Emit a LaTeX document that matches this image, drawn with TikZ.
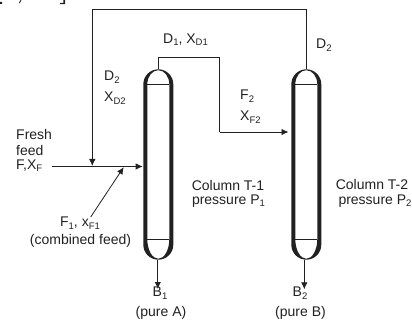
\documentclass[tikz,border=0pt]{standalone}
\usepackage{fontspec}
\setmainfont{Liberation Sans}
\usetikzlibrary{arrows.meta}
\definecolor{ink}{gray}{0.13}
\newcommand{\lowr}[1]{\raisebox{-2.6pt}{\fontsize{9.5pt}{10pt}\selectfont #1}}
\tikzset{
  pipe/.style={draw=ink,line width=0.8pt},
  flow/.style={pipe,-{Latex[length=7pt,width=6.5pt]}},
  lab/.style={text=ink,font=\fontsize{14pt}{16pt}\selectfont,inner sep=0pt,align=center},
}
\newcommand{\colm}[2]{%
  \coordinate (#1top) at (#2,-69.3);
  \coordinate (#1bot) at (#2,-259.7);
  \fill[ink,even odd rule]
    (#2-15,-84.3) arc[start angle=180,end angle=0,x radius=15,y radius=15]
    -- (#2+15,-244.7) arc[start angle=0,end angle=-180,x radius=15,y radius=15] -- cycle
    (#2-11,-84.3) arc[start angle=180,end angle=0,x radius=11,y radius=14.1]
    -- (#2+11,-239) arc[start angle=0,end angle=-180,x radius=11,y radius=19.8] -- cycle;
  \draw[pipe] (#2-11,-84.7) -- (#2+11,-84.7) (#2-11,-239) -- (#2+11,-239);
}
\begin{document}
\begin{tikzpicture}[x=1pt,y=1pt]
\useasboundingbox (0,-323) rectangle (412,0);
\colm{a}{158.3}
\colm{b}{306.3}
\coordinate (rc) at (92.3,-9.5);
\coordinate (re) at (306.3,-9.5);
\coordinate (rf) at (92.3,-166);
\coordinate (d1) at (158.3,-57.5);
\coordinate (d2) at (219.5,-57.5);
\coordinate (d3) at (219.5,-132);
\coordinate (f2) at (288.5,-132);
\coordinate (fs) at (52,-166.5);
\coordinate (fe) at (142.7,-166.5);
\coordinate (cs) at (90.7,-217);
\coordinate (ce) at (123.7,-167.2);
\coordinate (ba) at (157.8,-259.7);
\coordinate (b1) at (157.8,-289);
\coordinate (bb) at (304.3,-259.7);
\coordinate (b2) at (304.3,-289.3);
\draw[pipe] (btop) -- (re) -- (rc);
\draw[flow] (rc) -- (rf);
\draw[pipe] (atop) -- (d1) -- (d2) -- (d3);
\draw[flow] (d3) -- (f2);
\draw[flow] (fs) -- (fe);
\draw[flow] (cs) -- (ce);
\draw[flow,line width=1.1pt] (ba) -- (b1);
\draw[flow] (bb) -- (b2);
% cropped remains at the upper edge
\fill[ink] (0,-2) rectangle (2,-4) (60,-3) rectangle (65,-4.2) (63.4,0) rectangle (65,-4.2);
\draw[ink,line width=0.8pt] (19.3,-3.2) -- (21,0);
\node[lab,anchor=west] (n1) at (163,-39.5) {D\lowr{1}, X\lowr{D1}};
\node[lab,anchor=west] (n2) at (104,-77) {D\lowr{2}};
\node[lab,anchor=west] (n3) at (104,-98) {X\lowr{D2}};
\node[lab,anchor=west] (n4) at (316,-45) {D\lowr{2}};
\node[lab,anchor=west] (n5) at (240,-96) {F\lowr{2}};
\node[lab,anchor=west] (n6) at (240,-117) {X\lowr{F2}};
\node[lab,anchor=west] (n7) at (16,-134) {Fresh};
\node[lab,anchor=west] (n8) at (16,-150) {feed};
\node[lab,anchor=west] (n9) at (16,-165.5) {F,X\lowr{F}};
\node[lab] (n10) at (80,-223) {F\lowr{1}, x\lowr{F1}};
\node[lab] (n11) at (80.5,-240.7) {(combined feed)};
\node[lab] (n12) at (228,-185) {Column T-1};
\node[lab] (n14) at (228.5,-201) {pressure P\lowr{1}};
\node[lab] (n15) at (372,-184.7) {Column T-2};
\node[lab] (n16) at (375,-200.7) {pressure P\lowr{2}};
\node[lab] (n17) at (160,-293) {B\lowr{1}};
\node[lab] (n18) at (161,-313) {(pure A)};
\node[lab] (n19) at (300,-293) {B\lowr{2}};
\node[lab] (n20) at (300.5,-313) {(pure B)};
\end{tikzpicture}
\end{document}
